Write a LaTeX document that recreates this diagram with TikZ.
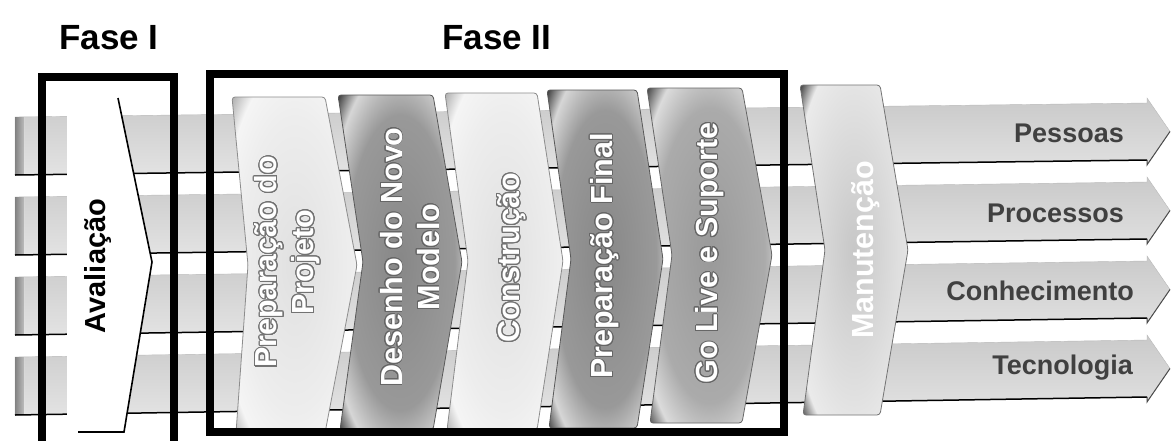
\documentclass[tikz,border=0pt]{standalone}
\usepackage{fontspec}
\setmainfont{Liberation Sans}
\usepackage{contour}
\contourlength{1.1pt}
\contournumber{24}
% bevelled glow shadings for the chevrons
\colorlet{glA}{black!12}\colorlet{glB}{black!7}\colorlet{glC}{black!4}\colorlet{glD}{black!30}
\colorlet{dkA}{black!47}\colorlet{dkB}{black!40}\colorlet{dkC}{black!16}\colorlet{dkD}{black!74}
\colorlet{mdA}{black!40}\colorlet{mdB}{black!33}\colorlet{mdC}{black!14}\colorlet{mdD}{black!70}
\colorlet{mtA}{black!22}\colorlet{mtB}{black!12}\colorlet{mtC}{black!8}\colorlet{mtD}{black!72}
\pgfdeclareradialshading{glowlight}{\pgfpoint{0bp}{0bp}}{color(0bp)=(glA); color(22bp)=(glB); color(30bp)=(glC); color(35bp)=(glD); color(50bp)=(glD)}
\pgfdeclareradialshading{glowdark}{\pgfpoint{0bp}{0bp}}{color(0bp)=(dkA); color(22bp)=(dkB); color(30bp)=(dkC); color(35bp)=(dkD); color(50bp)=(dkD)}
\pgfdeclareradialshading{glowmid}{\pgfpoint{0bp}{0bp}}{color(0bp)=(mdA); color(22bp)=(mdB); color(30bp)=(mdC); color(35bp)=(mdD); color(50bp)=(mdD)}
\pgfdeclareradialshading{glowmaint}{\pgfpoint{0bp}{0bp}}{color(0bp)=(mtA); color(22bp)=(mtB); color(30bp)=(mtC); color(35bp)=(mtD); color(50bp)=(mtD)}
\begin{document}
\begin{tikzpicture}[x=1pt,y=-1pt,
  phasebox/.style={draw=black,line width=7.5pt,line join=miter},
  phasetitle/.style={font=\bfseries\fontsize{35}{40}\selectfont,text=black},
  lanefill/.style={top color=gray!42,middle color=white,bottom color=gray!22,draw=gray!55,line width=0.4pt},
  laneline/.style={draw=black,line width=1.5pt},
  chevlabel/.style={rotate=90,font=\bfseries\fontsize{30.5}{37}\selectfont,text=white,align=center,inner sep=0pt},
  lanelabel/.style={font=\bfseries\fontsize{27}{30}\selectfont,text=black!75,anchor=east,inner sep=0pt},
  chevbase/.style={line width=0.8pt,rounded corners=3pt},
  chevdark/.style={chevbase,shading=glowdark,draw=black!65},
  chevmid/.style={chevbase,shading=glowmid,draw=black!60},
  chevsoft/.style={chevbase,shading=glowmaint,draw=black!55},
  chevlight/.style={chevbase,shading=glowlight,draw=black!45}
]
\useasboundingbox (0,0) rectangle (1171,440);
\fill[white] (0,0) rectangle (1171,440);

% four horizontal lanes ending in arrow heads
\foreach \i in {0,1,2,3}{
  \pgfmathsetmacro{\tl}{117+80*\i}
  \pgfmathsetmacro{\bl}{175+80*\i}
  \pgfmathsetmacro{\tr}{103+79*\i}
  \pgfmathsetmacro{\br}{160+79*\i}
  \pgfmathsetmacro{\mr}{(\tr+\br)/2}
  \path[lanefill] (15,\tl) -- (1147,\tr) -- (1147,\tr-5) -- (1170,\mr)
        -- (1147,\br+5) -- (1147,\br) -- (15,\bl) -- cycle;
  \fill[left color=gray!75,right color=white,opacity=0.6] (15,\tl) rectangle (24,\bl);
  \draw[laneline] (15,\bl) -- (1147,\br);
  \draw[black!70,line width=1pt] (1147,\br) -- (1147,\br+5) -- (1170,\mr);
}

% assessment chevron (white, outlined on its right side only)
\fill[white] (67,98) -- (118,98) -- (152,262) -- (124,432) -- (67,432) -- cycle;
\draw[black,line width=1.6pt] (78,432) -- (124,432) -- (152,262) -- (118,98);
\node[rotate=90,font=\bfseries\fontsize{29}{34}\selectfont,text=black,inner sep=0pt] (aval) at (98,266) {Avaliação};

% phase II chevrons
\path[chevlight] (232,97) -- (325,97) -- (357,265) -- (325,433) -- (236,433) -- (248,265) -- cycle;
\path[chevdark]  (338,95) -- (433,95) -- (462,262) -- (433,430) -- (340,430) -- (363,262) -- cycle;
\path[chevlight] (445,93) -- (537,93) -- (563,261) -- (537,430) -- (447,430) -- (468,261) -- cycle;
\path[chevdark]  (547,90) -- (637,90) -- (663,259) -- (637,428) -- (549,428) -- (571,259) -- cycle;
\path[chevmid]   (647,88) -- (742,88) -- (772,255) -- (742,423) -- (650,423) -- (672,255) -- cycle;

% maintenance chevron
\path[chevsoft] (800,85) -- (880,85) -- (908,250) -- (880,415) -- (803,415) -- (825,250) -- cycle;

% chevron labels
\node[chevlabel] (prep) at (288,262) {\contour{black!55}{Preparação do}\\\contour{black!55}{Projeto}};
\node[chevlabel] (des) at (410,257) {\contourlength{0.8pt}\contour{black!60}{Desenho do Novo}\\\contourlength{0.8pt}\contour{black!60}{Modelo}};
\node[chevlabel] (cons) at (512,258) {\contour{black!55}{Construção}};
\node[chevlabel] (pfin) at (605,256) {\contourlength{0.8pt}\contour{black!60}{Preparação Final}};
\node[chevlabel] (golive) at (710,253) {\contourlength{0.8pt}\contour{black!60}{Go Live e Suporte}};
\node[chevlabel] (manut) at (866,250) {Manutenção};

% lane labels
\node[lanelabel] (pess) at (1124,133) {Pessoas};
\node[lanelabel] (proc) at (1124,213) {Processos};
\node[lanelabel] (conh) at (1134,291) {Conhecimento};
\node[lanelabel] (tecn) at (1133,368) {Tecnologia};

% phase frames
\draw[phasebox] (42,77) rectangle (174,452);
\draw[phasebox] (210,74) rectangle (784,432);

% phase titles
\node[phasetitle] (f1) at (109,38) {Fase I};
\node[phasetitle] (f2) at (497,38) {Fase II};
\end{tikzpicture}
\end{document}
